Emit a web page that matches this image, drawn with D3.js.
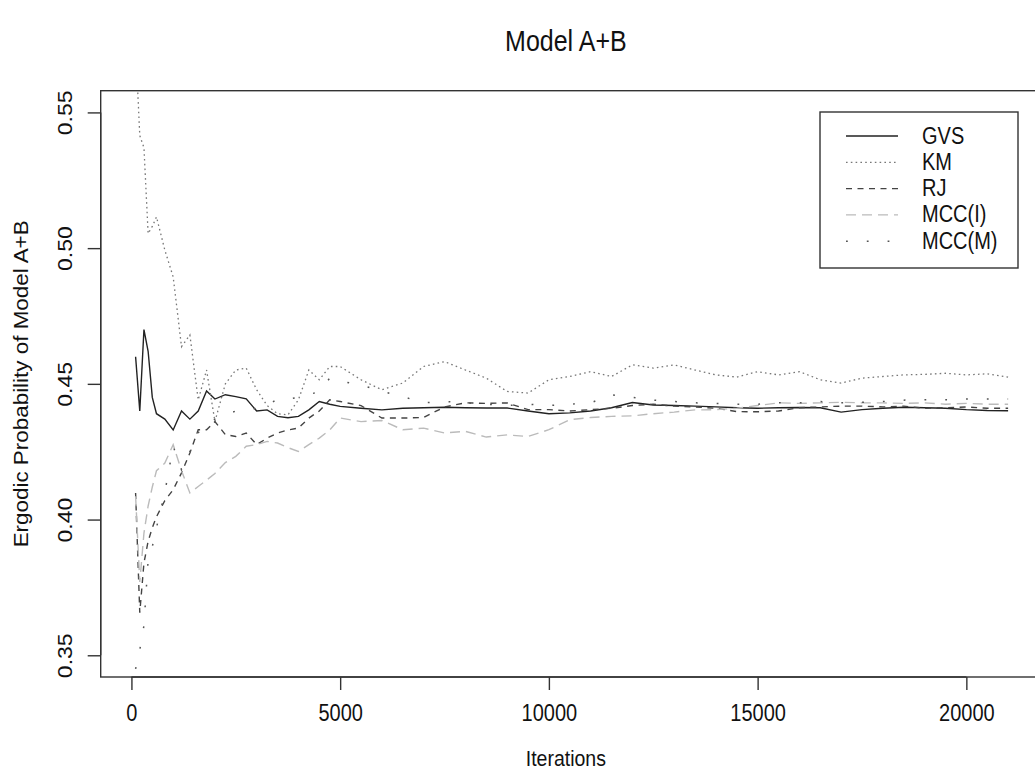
<!DOCTYPE html>
<html>
<head>
<meta charset="utf-8">
<script src="https://cdn.jsdelivr.net/npm/d3@7"></script>
<style>
  body { margin: 0; background: #fff; }
  svg text { font-family: "Liberation Sans", Arial, Helvetica, sans-serif; fill: #111; }
</style>
</head>
<body>
<div id="chart"></div>
<script>
// 迭代次数
var iterations = [100, 200, 300, 400, 500, 600, 800, 1000, 1200, 1400, 1600, 1800, 2000, 2250, 2500, 2750,
  3000, 3250, 3500, 3750, 4000, 4250, 4500, 4750, 5000, 5500, 6000, 6500, 7000, 7500, 8000, 8500, 9000,
  9500, 10000, 10500, 11000, 11500, 12000, 12500, 13000, 13500, 14000, 14500, 15000, 15500, 16000, 16500,
  17000, 17500, 18000, 18500, 19000, 19500, 20000, 20500, 21000];

var gvs = [0.460, 0.440, 0.470, 0.462, 0.445, 0.439, 0.437, 0.433, 0.440, 0.437, 0.440, 0.4474, 0.4444, 0.446, 0.4453, 0.4445,
  0.440, 0.4404, 0.438, 0.4375, 0.438, 0.4404, 0.4435, 0.4425, 0.4417, 0.441, 0.4404, 0.441, 0.4412, 0.4414, 0.4412, 0.4411, 0.4411,
  0.440, 0.439, 0.4393, 0.440, 0.4412, 0.4431, 0.4422, 0.442, 0.4418, 0.4415, 0.4412, 0.441, 0.4412, 0.4413, 0.4412,
  0.4396, 0.4405, 0.441, 0.4414, 0.4412, 0.441, 0.4405, 0.4402, 0.4401];

var km = [0.575, 0.5415, 0.537, 0.5054, 0.508, 0.5115, 0.4993, 0.4894, 0.4637, 0.468, 0.4441, 0.4551, 0.4361, 0.450, 0.4551, 0.4558,
  0.4478, 0.442, 0.439, 0.4386, 0.4441, 0.4551, 0.4515, 0.4564, 0.4564, 0.4515, 0.4478, 0.4503, 0.4564, 0.4582, 0.4551, 0.4521, 0.4472,
  0.4466, 0.4515, 0.4527, 0.4545, 0.4527, 0.457, 0.4558, 0.457, 0.4551, 0.4533, 0.4525, 0.4545, 0.4533, 0.4545, 0.4515,
  0.4503, 0.4521, 0.4527, 0.4533, 0.4535, 0.4539, 0.4533, 0.4537, 0.4525];

var rj = [0.4098, 0.3657, 0.384, 0.392, 0.397, 0.401, 0.407, 0.411, 0.4172, 0.4245, 0.4331, 0.4331, 0.4361, 0.4313, 0.4306, 0.4319,
  0.4276, 0.430, 0.4319, 0.433, 0.4337, 0.4374, 0.440, 0.4441, 0.4435, 0.442, 0.4374, 0.4374, 0.4376, 0.4415, 0.443, 0.4428, 0.443,
  0.4405, 0.4405, 0.440, 0.4405, 0.441, 0.442, 0.4425, 0.4418, 0.4415, 0.441, 0.4398, 0.4397, 0.440, 0.4412, 0.4415,
  0.4418, 0.4418, 0.4415, 0.4418, 0.441, 0.4412, 0.4415, 0.441, 0.441];

var mccI = [0.4086, 0.377, 0.395, 0.405, 0.412, 0.418, 0.4208, 0.4276, 0.418, 0.4098, 0.4122, 0.4145, 0.417, 0.421, 0.4233, 0.427,
  0.4276, 0.4288, 0.4282, 0.4265, 0.4251, 0.4276, 0.430, 0.433, 0.4374, 0.4361, 0.4365, 0.4331, 0.4337, 0.4319, 0.4325, 0.4304, 0.4312,
  0.4306, 0.4331, 0.4368, 0.4376, 0.438, 0.4382, 0.439, 0.4396, 0.4404, 0.4405, 0.441, 0.442, 0.443, 0.4428, 0.443,
  0.4432, 0.443, 0.443, 0.4428, 0.443, 0.4425, 0.4428, 0.4425, 0.4425];

var mccM = [0.345, 0.352, 0.361, 0.385, 0.390, 0.397, 0.410, 0.427, 0.4184, 0.425, 0.432, 0.435, 0.437, 0.4385, 0.440, 0.4405,
  0.441, 0.442, 0.4444, 0.4444, 0.445, 0.446, 0.4472, 0.4521, 0.451, 0.4496, 0.4472, 0.4453, 0.443, 0.4435, 0.443, 0.4425, 0.442,
  0.4425, 0.442, 0.4425, 0.443, 0.446, 0.445, 0.444, 0.4435, 0.443, 0.4428, 0.4425, 0.4425, 0.443, 0.443, 0.4435,
  0.443, 0.4432, 0.4435, 0.444, 0.4441, 0.4441, 0.4444, 0.4444, 0.4444];

var seriesNames = ["GVS", "KM", "RJ", "MCC(I)", "MCC(M)"];
var seriesValues = [gvs, km, rj, mccI, mccM];
var xTicks = [0, 5000, 10000, 15000, 20000];
var yTicks = [0.35, 0.40, 0.45, 0.50, 0.55];

// 线型
var styles = {
  "GVS":    { color: "#222", dash: null,      width: 1.4 },
  "KM":     { color: "#777", dash: "1.6 3.2", width: 1.3 },
  "RJ":     { color: "#444", dash: "6 5.5",   width: 1.4 },
  "MCC(I)": { color: "#bbb", dash: "10 6",    width: 1.4 },
  "MCC(M)": { color: "#555", dash: "1.8 19",  width: 1.5 }
};

var width = 1035, height = 771;
var box = { left: 100.7, top: 90.7, right: 1043, bottom: 677 };
var fontStack = '"Liberation Sans", Arial, Helvetica, sans-serif';
var stretch = 1.15;   // 原图文字纵向略拉长

var svg = d3.select("#chart").append("svg")
  .attr("width", width)
  .attr("height", height);

// R 风格：数据范围外加 4%
var xMin = d3.min(iterations), xMax = d3.max(iterations);
var xPad = (xMax - xMin) * 0.04;
var xScale = d3.scaleLinear()
  .domain([xMin - xPad, xMax + xPad])
  .range([box.left, box.right]);

var yPad = (0.55 - 0.35) * 0.04;
var yScale = d3.scaleLinear()
  .domain([0.35 - yPad, 0.55 + yPad])
  .range([box.bottom, box.top]);

svg.append("defs").append("clipPath").attr("id", "plotclip")
  .append("rect")
  .attr("x", box.left).attr("y", box.top)
  .attr("width", box.right - box.left).attr("height", box.bottom - box.top);

function addText(parent, x, y, str, size, anchor, rotate){
  return parent.append("text")
    .attr("transform", `translate(${x}, ${y}) scale(1, ${stretch})` + (rotate ? " rotate(-90)" : ""))
    .attr("text-anchor", anchor)
    .attr("font-size", size)
    .text(str);
}

// 标题
addText(svg, (box.left + box.right) / 2 - 6, 51, "Model A+B", 25, "middle", false);

// 折线
var line = d3.line()
  .x((d, i) => xScale(iterations[i]))
  .y(d => yScale(d));

var plot = svg.append("g").attr("clip-path", "url(#plotclip)");
seriesNames.forEach(function(name, k){
  var st = styles[name];
  plot.append("path")
    .datum(seriesValues[k])
    .attr("d", line)
    .attr("fill", "none")
    .attr("stroke", st.color)
    .attr("stroke-width", st.width)
    .attr("stroke-dasharray", st.dash);
});

// 边框
svg.append("rect")
  .attr("x", box.left).attr("y", box.top)
  .attr("width", box.right - box.left).attr("height", box.bottom - box.top)
  .attr("fill", "none")
  .attr("stroke", "#333")
  .attr("stroke-width", 1.4);

// x 轴
var xAxis = d3.axisBottom(xScale).tickValues(xTicks).tickSize(13).tickFormat(d3.format("d"));
var gx = svg.append("g")
  .attr("transform", `translate(0, ${box.bottom})`)
  .call(xAxis);
gx.select(".domain")
  .attr("d", `M${xScale(xTicks[0])},0H${xScale(xTicks[xTicks.length - 1])}`)
  .attr("stroke", "#333").attr("stroke-width", 1.4);
gx.selectAll(".tick line").attr("stroke", "#333").attr("stroke-width", 1.4);
gx.selectAll(".tick text")
  .attr("font-size", 20).attr("fill", "#111")
  .style("font-family", fontStack)
  .attr("y", null).attr("dy", null)
  .attr("transform", `translate(0, 44) scale(1, ${stretch})`);

// y 轴
var yAxis = d3.axisLeft(yScale).tickValues(yTicks).tickSize(13).tickFormat(d3.format(".2f"));
var gy = svg.append("g")
  .attr("transform", `translate(${box.left}, 0)`)
  .call(yAxis);
gy.select(".domain")
  .attr("d", `M0,${yScale(yTicks[0])}V${yScale(yTicks[yTicks.length - 1])}`)
  .attr("stroke", "#333").attr("stroke-width", 1.4);
gy.selectAll(".tick line").attr("stroke", "#333").attr("stroke-width", 1.4);
gy.selectAll(".tick text")
  .attr("font-size", 20).attr("fill", "#111")
  .style("font-family", fontStack)
  .attr("x", null).attr("dy", null)
  .attr("text-anchor", "middle")
  .attr("transform", `translate(-29, 0) scale(1, ${stretch}) rotate(-90)`);

// 轴标题
addText(svg, (box.left + box.right) / 2 - 6, 766, "Iterations", 19.5, "middle", false);
addText(svg, 28, yScale(0.45), "Ergodic Probability of Model A+B", 19.5, "middle", true);

// 图例
var legend = svg.append("g");
legend.append("rect")
  .attr("x", 820).attr("y", 112)
  .attr("width", 198).attr("height", 156)
  .attr("fill", "#fff")
  .attr("stroke", "#333")
  .attr("stroke-width", 1.4);
seriesNames.forEach(function(name, k){
  var st = styles[name];
  var yy = 136 + k * 26.3;
  legend.append("line")
    .attr("x1", 846).attr("x2", 898)
    .attr("y1", yy).attr("y2", yy)
    .attr("stroke", st.color)
    .attr("stroke-width", st.width)
    .attr("stroke-dasharray", st.dash);
  addText(legend, 922, yy + 7.5, name, 20, "start", false);
});
</script>
</body>
</html>
